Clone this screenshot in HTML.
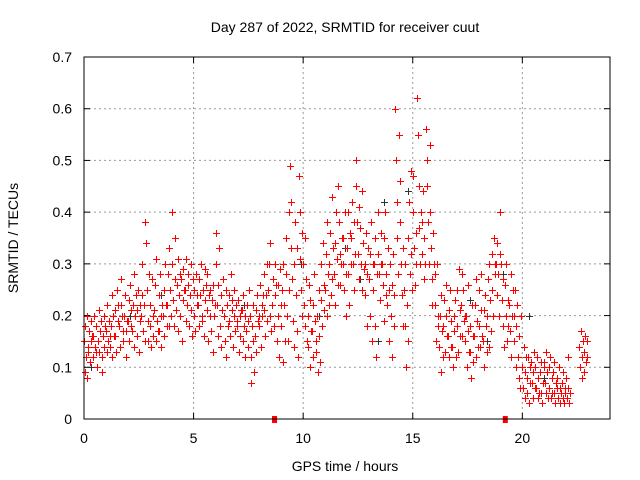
<!DOCTYPE html>
<html><head><meta charset="utf-8"><style>
html,body{margin:0;padding:0;background:#fff;}
svg{display:block;font-family:"Liberation Sans",sans-serif;}
</style></head><body>
<svg id="chart" width="640" height="480">
<text x="345" y="32" font-size="14" text-anchor="middle" fill="#000">Day 287 of 2022, SRMTID for receiver cuut</text>
<text x="345" y="471" font-size="14" text-anchor="middle" fill="#000">GPS time / hours</text>
<text transform="translate(18,238) rotate(-90)" font-size="14" text-anchor="middle" fill="#000">SRMTID / TECUs</text>
<g id="grid"></g><g id="ticks"></g><g id="marks"></g>
<rect x="84" y="57" width="526" height="362" fill="none" stroke="#000" stroke-width="1"/>
</svg>
<script>
const xTicks=[0,5,10,15,20];
const yTicks=[0,0.1,0.2,0.3,0.4,0.5,0.6,0.7];
const yTickLabels=["0","0.1","0.2","0.3","0.4","0.5","0.6","0.7"];
const bucketHours=[
0,0.2,0.4,0.6,0.8, 1,1.2,1.4,1.6,1.8, 2,2.2,2.4,2.6,2.8, 3,3.2,3.4,3.6,3.8,
4,4.2,4.4,4.6,4.8, 5,5.2,5.4,5.6,5.8, 6,6.2,6.4,6.6,6.8, 7,7.2,7.4,7.6,7.8,
8,8.2,8.4,8.6,8.8, 9,9.2,9.4,9.6,9.8, 10,10.2,10.4,10.6,10.8, 11,11.2,11.4,11.6,11.8,
12,12.2,12.4,12.6,12.8, 13,13.2,13.4,13.6,13.8, 14,14.2,14.4,14.6,14.8, 15,15.2,15.4,15.6,15.8,
16,16.2,16.4,16.6,16.8, 17,17.2,17.4,17.6,17.8, 18,18.2,18.4,18.6,18.8, 19,19.2,19.4,19.6,19.8,
20,20.2,20.4,20.6,20.8, 21,21.2,21.4,21.6,21.8, 22,22.6,22.8];
const bucketValues=[
/*0*/[0.15,0.09,0.18,0.12,0.2,0.08,0.14],[0.13,0.17,0.11,0.19,0.15,0.16],[0.16,0.12,0.2,0.14,0.18,0.13],[0.1,0.15,0.21,0.13,0.17,0.19],[0.12,0.09,0.16,0.2,0.14,0.18],
/*1*/[0.17,0.13,0.22,0.15,0.19,0.16],[0.14,0.18,0.12,0.24,0.2,0.16],[0.16,0.21,0.13,0.25,0.19,0.22],[0.18,0.14,0.27,0.22,0.2,0.17],[0.15,0.2,0.24,0.17,0.12,0.19],
/*2*/[0.19,0.23,0.15,0.26,0.21,0.18],[0.17,0.22,0.14,0.28,0.2,0.24],[0.16,0.21,0.25,0.13,0.19,0.22],[0.2,0.24,0.3,0.17,0.22,0.15],[0.38,0.34,0.25,0.19,0.15,0.28],
/*3*/[0.18,0.22,0.14,0.27,0.2,0.16],[0.21,0.26,0.15,0.31,0.19,0.17],[0.17,0.24,0.28,0.2,0.14,0.22],[0.2,0.25,0.16,0.3,0.22,0.18],[0.22,0.28,0.18,0.33,0.25,0.2],
/*4*/[0.4,0.3,0.23,0.18,0.27,0.35],[0.21,0.26,0.31,0.17,0.24,0.28],[0.2,0.27,0.15,0.29,0.23,0.25],[0.25,0.31,0.19,0.22,0.28,0.26],[0.18,0.24,0.3,0.21,0.16,0.27],
/*5*/[0.2,0.25,0.17,0.28,0.22,0.24],[0.22,0.27,0.18,0.24,0.3,0.2],[0.19,0.25,0.16,0.29,0.23,0.26],[0.21,0.28,0.15,0.24,0.2,0.25],[0.17,0.23,0.13,0.26,0.2,0.22],
/*6*/[0.36,0.3,0.22,0.16,0.26,0.33],[0.18,0.24,0.14,0.21,0.27,0.2],[0.2,0.15,0.25,0.12,0.22,0.18],[0.19,0.24,0.16,0.28,0.21,0.23],[0.14,0.2,0.25,0.17,0.22,0.19],
/*7*/[0.18,0.23,0.13,0.2,0.16,0.21],[0.21,0.15,0.24,0.18,0.12,0.2],[0.17,0.22,0.14,0.19,0.25,0.2],[0.07,0.12,0.18,0.22,0.15,0.09],[0.16,0.21,0.13,0.24,0.19,0.2],
/*8*/[0.18,0.26,0.14,0.22,0.2,0.24],[0.21,0.28,0.16,0.24,0.3,0.19],[0.25,0.3,0.2,0.34,0.17,0.22],[0.22,0.27,0.18,0.3,0.24,0.26],[0.15,0.2,0.26,0.12,0.29,0.22],
/*9*/[0.18,0.25,0.11,0.3,0.22,0.15],[0.28,0.35,0.2,0.15,0.4,0.25],[0.49,0.42,0.33,0.27,0.19,0.14],[0.3,0.38,0.24,0.17,0.33,0.12],[0.47,0.4,0.31,0.25,0.36,0.2],
/*10*/[0.3,0.22,0.35,0.18,0.27,0.15],[0.2,0.14,0.26,0.1,0.23,0.17],[0.17,0.22,0.12,0.28,0.19,0.15],[0.13,0.2,0.09,0.25,0.16,0.11],[0.23,0.3,0.18,0.34,0.21,0.26],
/*11*/[0.25,0.32,0.2,0.38,0.28,0.22],[0.3,0.36,0.24,0.43,0.27,0.33],[0.28,0.34,0.22,0.4,0.31,0.26],[0.45,0.38,0.32,0.26,0.3,0.35],[0.3,0.35,0.25,0.4,0.2,0.28],
/*12*/[0.33,0.28,0.4,0.22,0.36,0.3],[0.35,0.42,0.3,0.25,0.38,0.32],[0.5,0.45,0.38,0.32,0.27,0.41],[0.37,0.3,0.44,0.25,0.34,0.29],[0.3,0.24,0.36,0.18,0.28,0.33],
/*13*/[0.27,0.32,0.2,0.38,0.15,0.3],[0.25,0.3,0.18,0.35,0.12,0.28],[0.32,0.4,0.28,0.23,0.36,0.3],[0.3,0.26,0.35,0.19,0.4,0.24],[0.28,0.22,0.33,0.15,0.25,0.3],
/*14*/[0.2,0.26,0.12,0.32,0.18,0.24],[0.6,0.5,0.42,0.35,0.28,0.55],[0.46,0.38,0.3,0.24,0.18,0.33],[0.25,0.18,0.3,0.1,0.22,0.15],[0.35,0.42,0.28,0.48,0.32,0.25],
/*15*/[0.47,0.4,0.33,0.26,0.36,0.3],[0.62,0.55,0.45,0.37,0.3,0.4],[0.38,0.32,0.44,0.27,0.35,0.3],[0.56,0.5,0.45,0.38,0.3,0.53],[0.4,0.33,0.27,0.22,0.36,0.3],
/*16*/[0.22,0.28,0.15,0.3,0.18,0.2],[0.14,0.2,0.09,0.24,0.17,0.12],[0.18,0.23,0.13,0.26,0.2,0.16],[0.16,0.21,0.12,0.25,0.19,0.14],[0.14,0.1,0.2,0.17,0.23,0.12],
/*17*/[0.18,0.25,0.13,0.29,0.21,0.16],[0.22,0.28,0.16,0.25,0.19,0.2],[0.15,0.2,0.1,0.26,0.17,0.13],[0.13,0.18,0.08,0.22,0.16,0.11],[0.16,0.22,0.12,0.27,0.19,0.14],
/*18*/[0.18,0.25,0.14,0.21,0.28,0.16],[0.15,0.21,0.1,0.24,0.18,0.13],[0.2,0.27,0.14,0.3,0.23,0.17],[0.25,0.32,0.2,0.35,0.28,0.3],[0.3,0.34,0.24,0.28,0.2,0.32],
/*19*/[0.4,0.3,0.23,0.18,0.27,0.14],[0.26,0.2,0.3,0.15,0.23,0.18],[0.22,0.17,0.28,0.12,0.2,0.25],[0.2,0.15,0.25,0.1,0.18,0.22],[0.12,0.08,0.16,0.06,0.2,0.1],
/*20*/[0.1,0.06,0.14,0.04,0.09,0.12],[0.08,0.05,0.12,0.03,0.1,0.07],[0.11,0.07,0.04,0.09,0.13,0.06],[0.1,0.06,0.12,0.04,0.08,0.05],[0.09,0.05,0.11,0.03,0.07,0.1],
/*21*/[0.11,0.07,0.13,0.05,0.09,0.04],[0.1,0.06,0.12,0.04,0.08,0.05],[0.09,0.05,0.11,0.03,0.07,0.06],[0.08,0.04,0.1,0.03,0.06,0.05],[0.07,0.04,0.09,0.03,0.05,0.06],
/*22*/[0.08,0.04,0.12,0.06,0.03,0.05],[0.14,0.1,0.17,0.08,0.12,0.15],[0.13,0.09,0.16,0.11,0.15,0.12]];
const darkHours=[0.3,2.1,3.5,5.6,7.3,9.9,10.7,11.9,12.6,13.4,13.7,14.8,16.4,17.6,18.4,19.1,20.3,21.0];
const darkValues=[0.1,0.2,0.24,0.21,0.22,0.3,0.2,0.33,0.27,0.15,0.42,0.44,0.18,0.23,0.15,0.28,0.2,0.08];
const flagHours=[8.67,19.2];

const X0=84,X1=610,Y0=419,Y1=57;
const xs=h=>X0+(h/24)*(X1-X0);
const ys=v=>Y0-(v/0.7)*(Y0-Y1);
const NS="http://www.w3.org/2000/svg";
const grid=document.getElementById('grid'),ticks=document.getElementById('ticks'),marks=document.getElementById('marks');
function mk(tag,attrs,parent){const e=document.createElementNS(NS,tag);for(const k in attrs)e.setAttribute(k,attrs[k]);parent.appendChild(e);return e;}
xTicks.forEach(t=>{
  const x=xs(t);
  if(t>0){const g=mk('line',{x1:x,x2:x,y1:Y1,y2:Y0,stroke:'#999','stroke-dasharray':'2,3'},grid);
  
  }
  mk('line',{x1:x,x2:x,y1:Y0,y2:Y0-6,stroke:'#000'},ticks);
  mk('line',{x1:x,x2:x,y1:Y1,y2:Y1+6,stroke:'#000'},ticks);
  const l=mk('text',{x:x,y:Y0+24,'font-size':14,'text-anchor':'middle'},ticks);l.textContent=t;
  
  
});
yTicks.forEach((t,i)=>{
  const y=ys(t);
  if(i>0&&i<yTicks.length-1){const g=mk('line',{x1:X0,x2:X1,y1:y,y2:y,stroke:'#999','stroke-dasharray':'2,3'},grid);
  
  }
  mk('line',{x1:X0,x2:X0+6,y1:y,y2:y,stroke:'#000'},ticks);
  mk('line',{x1:X1,x2:X1-6,y1:y,y2:y,stroke:'#000'},ticks);
  const l=mk('text',{x:X0-12,y:y+5,'font-size':14,'text-anchor':'end'},ticks);l.textContent=yTickLabels[i];
  
  
});
function plus(h,v,color,name){
  const x=Math.round(xs(h))+0.5,y=Math.round(ys(v))+0.5;
  const p=mk('path',{d:`M${x-3.5},${y}H${x+3.5}M${x},${y-3.5}V${y+3.5}`,stroke:color,'stroke-width':1,fill:'none'},marks);
  
  
}
darkHours.forEach((h,i)=>plus(h,darkValues[i],'#333','dark-point'));
const nB=Math.min(bucketHours.length,bucketValues.length);
for(let i=0;i<nB;i++){
  const h=bucketHours[i],vals=bucketValues[i];
  vals.forEach((v,j)=>plus(h+j*0.2/vals.length,v,'#f00','srmtid-point'));
}
flagHours.forEach(h=>{
  const r=mk('rect',{x:xs(h)-2,y:Y0-3,width:5,height:7,fill:'#f00'},marks);
  
  
});
</script>
</body></html>
